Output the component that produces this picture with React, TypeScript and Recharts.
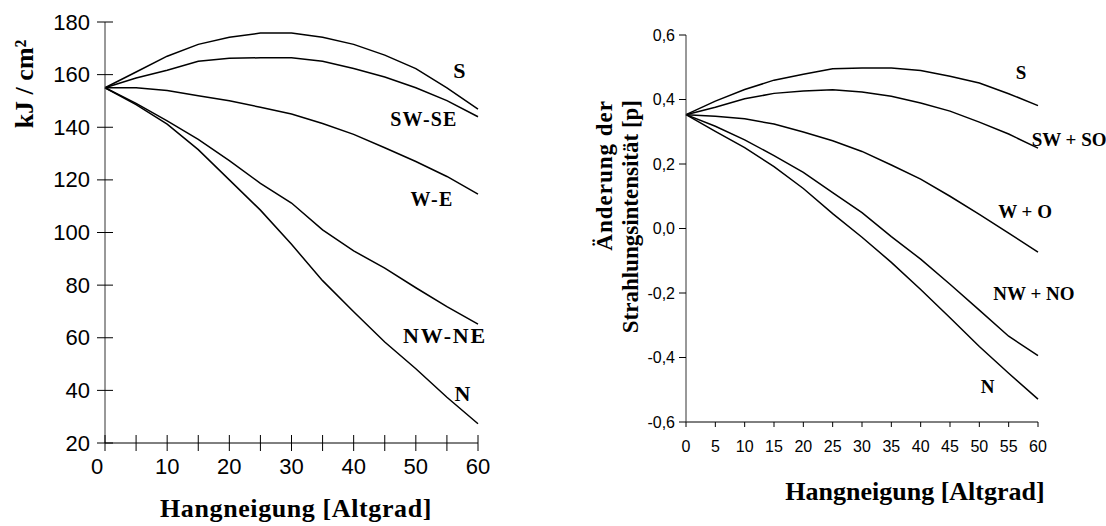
import { LineChart, Line, XAxis, YAxis, ReferenceDot } from "recharts";

// Hangneigung (slope) in degrees
const slope = [0, 5, 10, 15, 20, 25, 30, 35, 40, 45, 50, 55, 60];

// left chart: kJ / cm²
const leftS = [155, 161, 167, 171.5, 174.2, 175.8, 175.8, 174.2, 171.5, 167.4, 162.3, 155, 146.9];
const leftSWSE = [155, 158.7, 161.7, 165.1, 166.2, 166.4, 166.4, 165.1, 162.3, 159.1, 155, 150.1, 144];
const leftWE = [155, 155, 154, 152, 150.1, 147.6, 145, 141.4, 137.3, 132.2, 127, 121.3, 114.6];
const leftNWNE = [155, 149.1, 142.4, 135.4, 127.3, 118.7, 111.2, 101, 93, 86.5, 79, 71.8, 65.2];
const leftN = [155, 148.6, 141.2, 131.5, 120, 108.5, 95.5, 81.7, 69.9, 58.4, 48.2, 37.4, 27.3];

// right chart: Änderung der Strahlungsintensität [p]
const rightS = [0.353, 0.395, 0.431, 0.46, 0.478, 0.495, 0.498, 0.498, 0.49, 0.472, 0.451, 0.418, 0.381];
const rightSWSO = [0.353, 0.376, 0.402, 0.419, 0.426, 0.43, 0.423, 0.41, 0.389, 0.364, 0.33, 0.293, 0.249];
const rightWO = [0.353, 0.348, 0.34, 0.324, 0.299, 0.272, 0.239, 0.197, 0.153, 0.1, 0.044, -0.014, -0.073];
const rightNWNO = [0.353, 0.317, 0.275, 0.226, 0.174, 0.111, 0.049, -0.025, -0.095, -0.173, -0.253, -0.334, -0.394];
const rightN = [0.353, 0.301, 0.251, 0.192, 0.124, 0.046, -0.027, -0.105, -0.189, -0.277, -0.366, -0.449, -0.529];

const leftYTicks = [20, 40, 60, 80, 100, 120, 140, 160, 180];
const rightYTicks = [-0.6, -0.4, -0.2, 0, 0.2, 0.4, 0.6];
const xTicks = [0, 5, 10, 15, 20, 25, 30, 35, 40, 45, 50, 55, 60];

const leftNames = ["S", "SW-SE", "W-E", "NW-NE", "N"];
const rightNames = ["S", "SW + SO", "W + O", "NW + NO", "N"];

const leftData = slope.map((x, i) => ({
  x,
  s: leftS[i],
  swse: leftSWSE[i],
  we: leftWE[i],
  nwne: leftNWNE[i],
  n: leftN[i],
}));

const rightData = slope.map((x, i) => ({
  x,
  s: rightS[i],
  swso: rightSWSO[i],
  wo: rightWO[i],
  nwno: rightNWNO[i],
  n: rightN[i],
}));

// where the curve names sit, in data units
const leftLabelAt = [
  [57.1, 161.7],
  [51.3, 143.1],
  [52.6, 112.6],
  [54.7, 60.9],
  [57.6, 38.9],
];
const rightLabelAt = [
  [57.1, 0.483],
  [65.3, 0.277],
  [57.8, 0.055],
  [59.3, -0.201],
  [51.4, -0.488],
];

const SANS = "'Liberation Sans', Arial, sans-serif";
const SERIF = "'Liberation Serif', 'Times New Roman', serif";

const LeftYTick = (props: any) => {
  const { x, y, payload } = props;
  return (
    <g>
      <line x1={x - 8} x2={x + 8} y1={y} y2={y} stroke="#000" />
      <text x={x - 15} y={y} textAnchor="end" dominantBaseline="central" fontSize={22} fontFamily={SANS} fill="#000">
        {payload.value}
      </text>
    </g>
  );
};

const LeftXTick = (props: any) => {
  const { x, y, payload } = props;
  const v = payload.value;
  return (
    <g>
      <line x1={x} x2={x} y1={y - 8} y2={y + 8} stroke="#000" />
      {v % 10 === 0 && (
        <text x={v === 0 ? x - 8 : x} y={y + 23} textAnchor="middle" dominantBaseline="central" fontSize={22} fontFamily={SANS} fill="#000">
          {v}
        </text>
      )}
    </g>
  );
};

const RightYTick = (props: any) => {
  const { x, y, payload } = props;
  return (
    <g>
      <line x1={x - 7} x2={x} y1={y} y2={y} stroke="#000" />
      <text x={x - 11} y={y} textAnchor="end" dominantBaseline="central" fontSize={16} fontFamily={SANS} fill="#000">
        {payload.value.toFixed(1).replace(".", ",")}
      </text>
    </g>
  );
};

const RightXTick = (props: any) => {
  const { x, y, payload } = props;
  return (
    <g>
      <line x1={x} x2={x} y1={y} y2={y + 5} stroke="#000" />
      <text x={x} y={y + 24} textAnchor="middle" dominantBaseline="central" fontSize={16} fontFamily={SANS} fill="#000">
        {payload.value}
      </text>
    </g>
  );
};

const lineProps = {
  type: "linear" as const,
  stroke: "#000",
  strokeWidth: 1.5,
  dot: false,
  isAnimationActive: false,
};

export default function App() {
  return (
    <div style={{ position: "absolute", left: 0, top: 0, width: 1106, height: 526, background: "#fff" }}>
      <div style={{ position: "absolute", left: 0, top: 0 }}>
        <LineChart width={560} height={526} data={leftData} margin={{ top: 22, right: 82, left: 45, bottom: 53 }}>
          <XAxis
            dataKey="x"
            type="number"
            domain={[0, 60]}
            ticks={xTicks}
            interval={0}
            height={30}
            tickSize={0}
            tickMargin={0}
            tickLine={false}
            axisLine={{ stroke: "#000" }}
            tick={<LeftXTick />}
            label={() => (
              <text x={296} y={517} textAnchor="middle" fontSize={26} fontWeight="bold" letterSpacing={0.6} fontFamily={SERIF} fill="#000">
                Hangneigung [Altgrad]
              </text>
            )}
          />
          <YAxis
            type="number"
            domain={[20, 180]}
            ticks={leftYTicks}
            interval={0}
            width={60}
            tickSize={0}
            tickMargin={0}
            tickLine={false}
            axisLine={{ stroke: "#333" }}
            tick={<LeftYTick />}
            label={() => (
              <text x={33} y={84} transform="rotate(-90 33 84)" textAnchor="middle" fontSize={26} fontWeight="bold" fontFamily={SERIF} fill="#000">
                kJ / cm²
              </text>
            )}
          />
          <Line dataKey="s" {...lineProps} />
          <Line dataKey="swse" {...lineProps} />
          <Line dataKey="we" {...lineProps} />
          <Line dataKey="nwne" {...lineProps} />
          <Line dataKey="n" {...lineProps} />
          {leftNames.map((name, i) => (
            <ReferenceDot
              key={name}
              x={leftLabelAt[i][0]}
              y={leftLabelAt[i][1]}
              r={0}
              stroke="none"
              fill="none"
              ifOverflow="visible"
              label={{
                value: name,
                position: "center",
                fontSize: i === 0 || i === 4 ? 22 : i === 3 ? 22 : 20,
                fontWeight: "bold",
                fontFamily: SERIF,
                letterSpacing: i === 3 ? 1.8 : 1.2,
                fill: "#000",
              }}
            />
          ))}
        </LineChart>
      </div>
      <div style={{ position: "absolute", left: 560, top: 0 }}>
        <LineChart width={546} height={526} data={rightData} margin={{ top: 35, right: 68, left: 66, bottom: 74 }}>
          <XAxis
            dataKey="x"
            type="number"
            domain={[0, 60]}
            ticks={xTicks}
            interval={0}
            height={30}
            tickSize={0}
            tickMargin={0}
            tickLine={false}
            axisLine={{ stroke: "#000" }}
            tick={<RightXTick />}
            label={() => (
              <text x={355} y={500} textAnchor="middle" fontSize={26} fontWeight="bold" fontFamily={SERIF} fill="#000">
                Hangneigung [Altgrad]
              </text>
            )}
          />
          <YAxis
            type="number"
            domain={[-0.6, 0.6]}
            ticks={rightYTicks}
            interval={0}
            width={60}
            tickSize={0}
            tickMargin={0}
            tickLine={false}
            axisLine={{ stroke: "#333" }}
            tick={<RightYTick />}
            label={() => (
              <g fontWeight="bold" fontFamily={SERIF} fill="#000" fontSize={23}>
                <text x={52} y={100} transform="rotate(-90 52 100)" textAnchor="end" letterSpacing={1}>
                  Änderung der
                </text>
                <text x={78} y={100} transform="rotate(-90 78 100)" textAnchor="end">
                  Strahlungsintensität [p]
                </text>
              </g>
            )}
          />
          <Line dataKey="s" {...lineProps} />
          <Line dataKey="swso" {...lineProps} />
          <Line dataKey="wo" {...lineProps} />
          <Line dataKey="nwno" {...lineProps} />
          <Line dataKey="n" {...lineProps} />
          {rightNames.map((name, i) => (
            <ReferenceDot
              key={name}
              x={rightLabelAt[i][0]}
              y={rightLabelAt[i][1]}
              r={0}
              stroke="none"
              fill="none"
              ifOverflow="visible"
              label={{
                value: name,
                position: "center",
                fontSize: 19,
                fontWeight: "bold",
                fontFamily: SERIF,
                fill: "#000",
              }}
            />
          ))}
        </LineChart>
      </div>
    </div>
  );
}
